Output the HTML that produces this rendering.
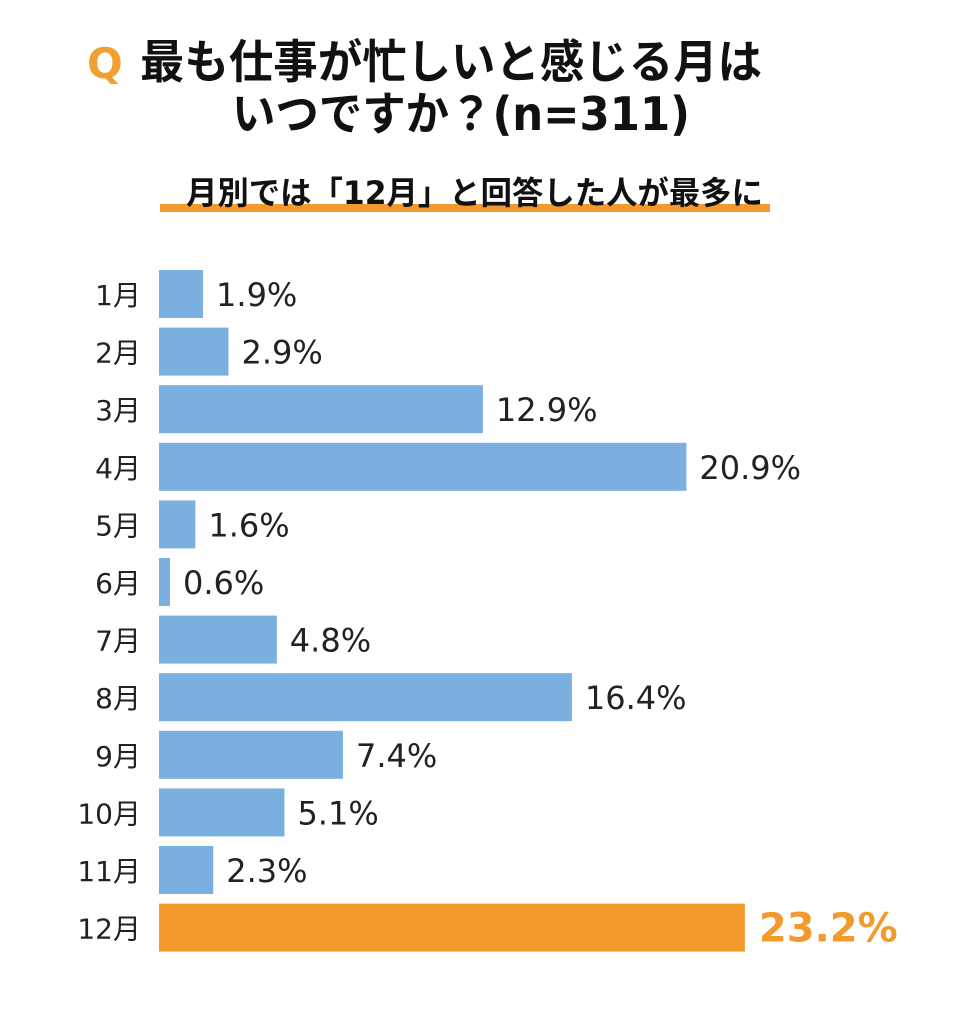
<!DOCTYPE html>
<html><head><meta charset="utf-8"><style>
body{margin:0;background:#fff;width:959px;height:1024px;overflow:hidden;font-family:"Liberation Sans","Noto Sans CJK JP",sans-serif;}
svg text{font-family:"DejaVu Sans","Noto Sans CJK JP",sans-serif;}
</style></head><body>
<svg id="chart" width="959" height="1024" viewBox="0 0 959 1024">
<text x="87" y="78" font-size="42" font-weight="bold" fill="#f0a030">Q</text>
<text x="140" y="78" font-size="46" font-weight="bold" fill="#111" textLength="622" lengthAdjust="spacingAndGlyphs">最も仕事が忙しいと感じる月は</text>
<text x="232" y="130" font-size="46" font-weight="bold" fill="#111" textLength="458" lengthAdjust="spacingAndGlyphs">いつですか？(n=311)</text>
<rect x="160" y="204" width="610" height="8" fill="#f39a2c"/>
<text x="186" y="204" font-size="32" font-weight="bold" fill="#111" textLength="577" lengthAdjust="spacingAndGlyphs">月別では「12月」と回答した人が最多に</text>
<g id="bars"></g>
</svg>
<script>
const categories=["1月","2月","3月","4月","5月","6月","7月","8月","9月","10月","11月","12月"];
const values=[1.9,2.9,12.9,20.9,1.6,0.6,4.8,16.4,7.4,5.1,2.3,23.2];
const labels=["1.9%","2.9%","12.9%","20.9%","1.6%","0.6%","4.8%","16.4%","7.4%","5.1%","2.3%","23.2%"];
const highlightIndex=11;
const barLeft=159, axis0=154.7, pxPer=25.44, y0=294, step=57.6, bh=48;
const xs=v=>axis0+v*pxPer;
const ys=i=>y0+i*step;
const g=document.getElementById('bars');
const NS="http://www.w3.org/2000/svg";
categories.forEach((c,i)=>{
  const hi=i===highlightIndex;
  const t=document.createElementNS(NS,'text');
  
  
  t.setAttribute('x',141);t.setAttribute('y',ys(i)+11);t.setAttribute('text-anchor','end');
  t.setAttribute('font-size','28');t.setAttribute('fill','#222');t.textContent=c;g.appendChild(t);
  const r=document.createElementNS(NS,'rect');
  
  
  r.setAttribute('x',barLeft);r.setAttribute('y',ys(i)-bh/2);r.setAttribute('width',Math.max(0,xs(values[i])-barLeft));r.setAttribute('height',bh);
  r.setAttribute('fill',hi?'#f39a2c':'#7aafe0');g.appendChild(r);
  const v=document.createElementNS(NS,'text');
  
  
  v.setAttribute('x',xs(values[i])+(hi?14:13));v.setAttribute('y',ys(i)+(hi?14:12));
  v.setAttribute('font-size',hi?'40':'32');
  if(hi)v.setAttribute('font-weight','bold');
  v.setAttribute('fill',hi?'#f39a2c':'#222');v.textContent=labels[i];g.appendChild(v);
});
</script>
</body></html>
